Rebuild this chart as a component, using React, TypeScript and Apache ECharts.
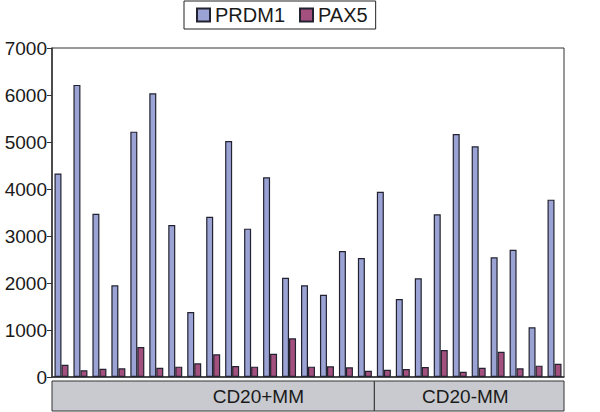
import React, { useEffect, useRef } from "react";
import * as echarts from "echarts";

const categories = Array.from({ length: 27 }, (_, i) => `S${i + 1}`);
const prdm1 = [
  4330, 6215, 3475, 1950, 5220, 6036, 3234, 1383, 3411, 5021, 3156, 4248, 2110,
  1952, 1751, 2681, 2532,
  3943, 1660, 2099, 3461, 5168, 4908, 2546, 2709, 1057, 3773,
];
const pax5 = [
  262, 143, 177, 184, 638, 198, 220, 291, 482, 234, 220, 496, 823,
  220, 227, 206, 134,
  155, 170, 213, 574, 113, 198, 538, 184, 241, 283,
];
const groups = ["CD20+MM", "CD20-MM"];
const groupSizes = [17, 10];
const yTicks = { min: 0, max: 7000, interval: 1000 };

const FONT = "Liberation Sans, Arial, Helvetica, sans-serif";

export default function App() {
  const ref = useRef<HTMLDivElement>(null);
  useEffect(() => {
    if (!ref.current) return;
    const chart = echarts.init(ref.current, undefined, { renderer: "svg" });
    chart.setOption({
      animation: false,
      textStyle: { fontFamily: FONT },
      legend: {
        data: ["PRDM1", "PAX5"],
        left: 184,
        top: 1,
        padding: [4, 8, 4, 12],
        borderColor: "#222",
        borderWidth: 1,
        itemWidth: 13,
        itemHeight: 13,
        itemGap: 14,
        icon: "rect",
        textStyle: { fontSize: 20, color: "#1a1a1a", fontFamily: FONT },
      },
      grid: {
        left: 52,
        right: 36,
        top: 48,
        bottom: 35,
        show: true,
        borderColor: "#333",
        borderWidth: 1,
      },
      xAxis: {
        type: "category",
        data: categories,
        axisLine: { lineStyle: { color: "#333", width: 1.5 } },
        axisTick: { show: false },
        axisLabel: { show: false },
      },
      yAxis: {
        type: "value",
        min: yTicks.min,
        max: yTicks.max,
        interval: yTicks.interval,
        splitLine: { show: false },
        axisLine: { show: true, lineStyle: { color: "#333", width: 1.5 } },
        axisTick: { show: true, length: 5, lineStyle: { color: "#333" } },
        axisLabel: {
          fontSize: 19,
          color: "#1a1a1a",
          margin: 5,
          fontFamily: FONT,
          formatter: (v: number) => String(v),
        },
      },
      series: [
        {
          name: "PRDM1",
          type: "bar",
          data: prdm1,
          barWidth: 7,
          barGap: "0%",
          itemStyle: { color: "#9ba3d5", borderColor: "#222230", borderWidth: 1.2 },
        },
        {
          name: "PAX5",
          type: "bar",
          data: pax5,
          barWidth: 7,
          itemStyle: { color: "#a3507e", borderColor: "#222230", borderWidth: 1.2 },
        },
      ],
    });

    const x0 = chart.convertToPixel({ xAxisIndex: 0 }, 0) as number;
    const x1 = chart.convertToPixel({ xAxisIndex: 0 }, 1) as number;
    const bw = x1 - x0;
    const y0 = chart.convertToPixel({ yAxisIndex: 0 }, 0) as number;
    const elements: any[] = [];
    let start = 0;
    groups.forEach((g, gi) => {
      const n = groupSizes[gi];
      const left = x0 + (start - 0.5) * bw;
      const width = n * bw;
      elements.push({
        type: "rect",
        shape: { x: left, y: y0 + 4, width, height: 30 },
        style: { fill: "#c8cacf", stroke: "#333", lineWidth: 1 },
      });
      const cx = gi === 0 ? left + width * 0.64 : left + width * 0.48;
      elements.push({
        type: "text",
        x: cx,
        y: y0 + 19,
        style: {
          text: g,
          fontSize: 19,
          fontFamily: FONT,
          fill: "#1a1a1a",
          textAlign: "center",
          textVerticalAlign: "middle",
        },
      });
      start += n;
    });
    chart.setOption({ graphic: elements });

    return () => chart.dispose();
  }, []);
  return (
    <div
      ref={ref}
      style={{ position: "absolute", left: 0, top: 0, width: 600, height: 412 }}
    />
  );
}
